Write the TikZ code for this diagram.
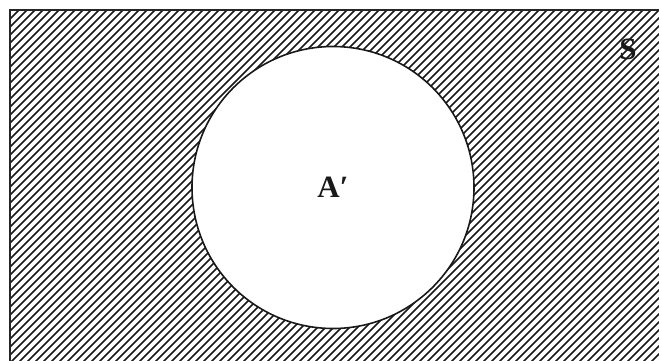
\documentclass[tikz,border=0pt]{standalone}
\usepackage{fontspec}
\setmainfont{Liberation Serif}
\tikzset{
  hatchline/.style={line width=1.7pt, black!90},
  borderline/.style={line width=1.8pt, black!85},
  circline/.style={line width=1.6pt, black!90, fill=white},
  lbl/.style={font=\fontsize{31}{36}\selectfont\bfseries, text=black!90}
}
\begin{document}
\begin{tikzpicture}[x=1pt,y=1pt]
\useasboundingbox (0,0) rectangle (659,360);
\begin{scope}
  \clip (10,-5) rectangle (665,350);
  \foreach \c in {-376,-368,...,672} {
    \draw[hatchline] (\c,-5) -- (\c+370,365);
  }
\end{scope}
\draw[borderline] (10,-5) rectangle (665,350);
\draw[circline] (333,172.5) circle (141);
\node[lbl] (Ap) at (333,173) {A′};
\node[lbl] (S) at (628,311) {S};
\end{tikzpicture}
\end{document}
